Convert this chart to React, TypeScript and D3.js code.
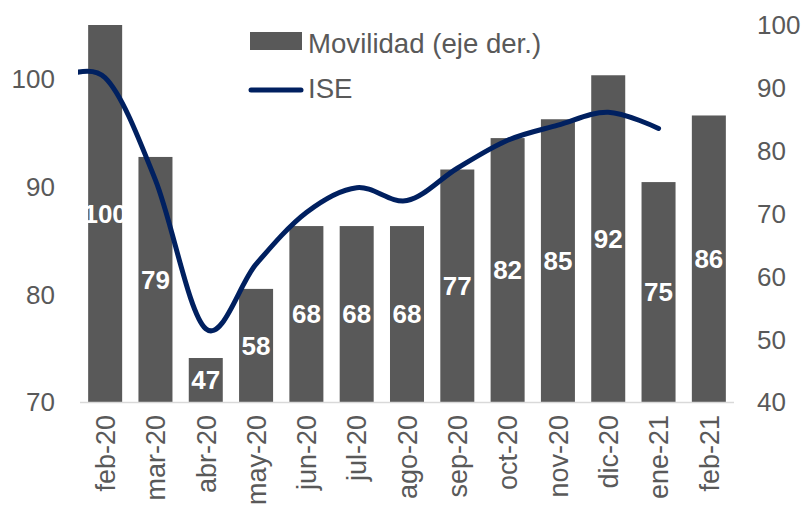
import React from "react";
import * as d3 from "d3";

const categories = ["feb-20","mar-20","abr-20","may-20","jun-20","jul-20","ago-20","sep-20","oct-20","nov-20","dic-20","ene-21","feb-21"];
const movilidad = [100, 79, 47, 58, 68, 68, 68, 77, 82, 85, 92, 75, 85.6];
const iseMonths = ["ene-20","feb-20","mar-20","abr-20","may-20","jun-20","jul-20","ago-20","sep-20","oct-20","nov-20","dic-20","ene-21"];
const ise = [99.8, 100.1, 90.6, 76.8, 82.8, 87.6, 89.9, 88.7, 91.7, 94.3, 95.7, 96.9, 95.4];
const leftTicks = [70, 80, 90, 100];
const rightTicks = [40, 50, 60, 70, 80, 90, 100];
const legendBar = "Movilidad (eje der.)";
const legendLine = "ISE";

const W = 808, H = 509;
const plot = { left: 80, right: 734, top: 25, bottom: 402 };
const FONT = "'Liberation Sans', Arial, sans-serif";
const GREY = "#595959";
const NAVY = "#002060";

export default function App() {
  const x = d3.scaleBand<string>().domain(categories).range([plot.left, plot.right]).paddingInner(0.324).paddingOuter(0.162);
  const bw = x.bandwidth();
  const yL = d3.scaleLinear().domain([70, 105]).range([plot.bottom, plot.top]);
  const yR = d3.scaleLinear().domain([40, 100]).range([plot.bottom, plot.top]);
  const xi = d3.scaleLinear().domain([0, categories.length - 1]).range([(x(categories[0]) as number) + bw / 2, (x(categories[categories.length - 1]) as number) + bw / 2]);
  const linePts: [number, number][] = iseMonths.map((m, i) => {
    const idx = categories.indexOf(m);
    return [xi(idx >= 0 ? idx : i - 1), yL(ise[i])];
  });
  const linePath = d3.line().curve(d3.curveCardinal.tension(0))(linePts) || "";

  return (
    <svg width={W} height={H} style={{ position: "absolute", left: 0, top: 0, background: "#fff" }} fontFamily={FONT}>
      <defs>
        <clipPath id="plotclip">
          <rect x={plot.left - 2} y={0} width={plot.right - plot.left + 4} height={H} />
        </clipPath>
      </defs>
      <rect x={0} y={0} width={W} height={H} fill="#fff" />
      {categories.map((c, i) => (
        <rect key={c} x={x(c)} y={yR(movilidad[i])} width={bw} height={plot.bottom - yR(movilidad[i])} fill={GREY} />
      ))}
      <line x1={plot.left} x2={plot.right} y1={plot.bottom + 0.5} y2={plot.bottom + 0.5} stroke="#d9d9d9" strokeWidth={1.5} />
      {categories.map((c, i) => (
        <text key={"l" + c} x={(x(c) as number) + bw / 2} y={(yR(movilidad[i]) + plot.bottom) / 2} dy="0.36em" textAnchor="middle" fill="#fff" fontWeight="bold" fontSize={26}>
          {Math.round(movilidad[i])}
        </text>
      ))}
      <path d={linePath} fill="none" stroke={NAVY} strokeWidth={5} strokeLinecap="round" strokeLinejoin="round" clipPath="url(#plotclip)" />
      {leftTicks.map((t) => (
        <text key={"yl" + t} x={55} y={yL(t)} dy="0.36em" textAnchor="end" fill={GREY} fontSize={26}>{t}</text>
      ))}
      {rightTicks.map((t) => (
        <text key={"yr" + t} x={757} y={yR(t)} dy="0.36em" textAnchor="start" fill={GREY} fontSize={26}>{t}</text>
      ))}
      {categories.map((c) => {
        const cx = (x(c) as number) + bw / 2;
        return (
          <text key={"x" + c} transform={`translate(${cx},415) rotate(-90)`} dy="0.36em" textAnchor="end" fill={GREY} fontSize={27}>{c}</text>
        );
      })}
      <rect x={250} y={32} width={52} height={18} fill={GREY} />
      <text x={308} y={53} fill={GREY} fontSize={27.6}>{legendBar}</text>
      <line x1={251} x2={301} y1={90} y2={90} stroke={NAVY} strokeWidth={5} strokeLinecap="round" />
      <text x={308} y={98} fill={GREY} fontSize={27.6}>{legendLine}</text>
    </svg>
  );
}
